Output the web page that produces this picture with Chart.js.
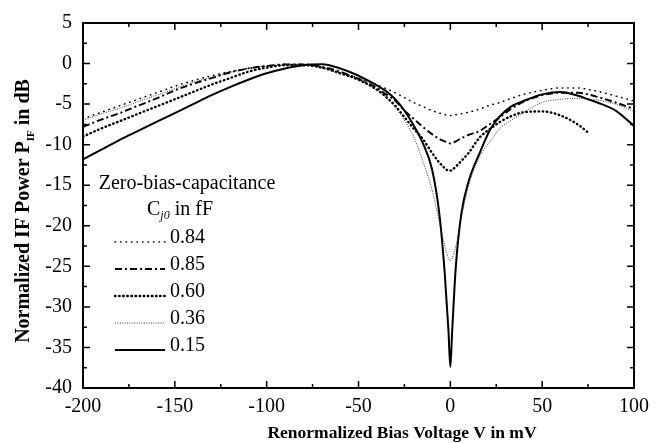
<!DOCTYPE html>
<html>
<head>
<meta charset="utf-8">
<style>
  html, body { margin: 0; padding: 0; background: #fff; }
  #wrap { width: 661px; height: 443px; }
</style>
<script src="https://cdn.jsdelivr.net/npm/chart.js@4.4.1/dist/chart.umd.min.js"></script>
</head>
<body>
<div id="wrap"><canvas id="myChart"></canvas></div>
<script>
// bias voltage grid (mV), shared by all curves
const biasMv = [-200, -190, -180, -170, -160, -150, -140, -130, -120, -110, -100, -90, -80,
  -70, -60, -50, -40, -35, -30, -25, -20, -15, -10, -6, -3, -1, 0, 1, 3, 6, 10, 16, 22, 27,
  33, 40, 50, 60, 70, 75, 80, 90, 100];

// normalized IF power (dB) per zero-bias capacitance
const cap084 = [-6.8, -6.0, -5.2, -4.4, -3.6, -2.8, -2.1, -1.5, -1.0, -0.6, -0.3, -0.1, -0.1,
  -0.5, -1.1, -1.8, -2.6, -3.1, -3.6, -4.2, -4.8, -5.3, -5.8, -6.1, -6.3, -6.4, -6.4, -6.4, -6.3,
  -6.2, -6.0, -5.6, -5.1, -4.8, -4.3, -3.8, -3.3, -3.0, -3.0, -3.2, -3.4, -4.0, -4.6];
const cap085 = [-7.8, -6.9, -6.1, -5.2, -4.3, -3.3, -2.5, -1.8, -1.1, -0.6, -0.3, -0.1, -0.1,
  -0.4, -1.0, -1.9, -3.0, -3.8, -4.6, -5.8, -6.8, -7.8, -8.7, -9.3, -9.6, -9.8, -9.85, -9.8, -9.6,
  -9.2, -8.8, -8.3, -7.4, -6.6, -5.6, -4.7, -3.9, -3.6, -3.6, -3.8, -4.1, -4.8, -5.6];
const cap060 = [-9.0, -8.0, -7.1, -6.2, -5.3, -4.4, -3.5, -2.6, -1.8, -1.0, -0.5, -0.2, -0.2,
  -0.5, -1.2, -2.0, -3.2, -4.1, -5.2, -6.6, -8.0, -9.3, -11.0, -12.2, -12.9, -13.2, -13.2, -13.1, -12.7,
  -12.0, -11.0, -9.1, -8.0, -7.2, -6.5, -6.0, -5.9, -6.4, -7.6, -8.5, null, null, null];
const cap036 = [-7.0, -6.2, -5.5, -4.7, -3.9, -3.1, -2.3, -1.7, -1.1, -0.6, -0.3, -0.2, -0.2,
  -0.5, -1.2, -2.0, -3.3, -4.2, -5.4, -7.0, -9.0, -12.0, -15.5, -19.5, -22.5, -24.0, -24.3, -24.0, -22.5,
  -19.0, -15.0, -11.5, -9.5, -8.0, -7.0, -6.0, -4.8, -4.4, -4.3, -4.4, -4.5, -5.0, -5.9];
const cap015 = [-11.8, -10.6, -9.4, -8.3, -7.2, -6.1, -5.0, -3.9, -2.9, -2.0, -1.2, -0.6, -0.2,
  -0.1, -0.6, -1.5, -2.7, -3.4, -4.4, -5.8, -7.6, -9.8, -13.0, -18.5, -26.0, -33.0, -37.4, -33.0, -25.0,
  -18.5, -14.5, -11.0, -8.0, -6.5, -5.3, -4.6, -3.8, -3.5, -4.0, -4.4, -4.8, -5.8, -7.7];

const capLabels = ["0.84", "0.85", "0.60", "0.36", "0.15"];
const xTickStep = 50;
const yTickStep = 5;

const serif = "'Liberation Serif', 'Times New Roman', serif";

function points(values) {
  return biasMv.map((v, i) => ({ x: v, y: values[i] }));
}

const lineStyles = [
  { width: 1.5, dash: [0.5, 5], cap: "round", color: "#000" },
  { width: 1.9, dash: [7, 3, 2, 3], cap: "butt", color: "#000" },
  { width: 2.4, dash: [0.5, 3.6], cap: "round", color: "#000" },
  { width: 0.9, dash: [1, 1.4], cap: "butt", color: "#222" },
  { width: 2, dash: [], cap: "butt", color: "#000" },
];

const seriesValues = [cap084, cap085, cap060, cap036, cap015];

const datasets = seriesValues.map((vals, i) => ({
  label: capLabels[i],
  data: points(vals),
  borderColor: lineStyles[i].color,
  borderWidth: lineStyles[i].width,
  borderDash: lineStyles[i].dash,
  borderCapStyle: lineStyles[i].cap,
  pointRadius: 0,
  fill: false,
  spanGaps: false,
  cubicInterpolationMode: "monotone",
}));

// frame, inward ticks, axis titles and the inset legend
const paperPlugin = {
  id: "paper",
  afterDatasetsDraw(chart) {
    const ctx = chart.ctx;
    const a = chart.chartArea;
    const xs = chart.scales.x;
    const ys = chart.scales.y;
    ctx.save();
    ctx.strokeStyle = "#000";
    ctx.lineWidth = 2;
    ctx.strokeRect(a.left, a.top, a.right - a.left, a.bottom - a.top);

    ctx.lineWidth = 1.5;
    for (let v = xs.min; v <= xs.max; v += xTickStep / 2) {
      const px = xs.getPixelForValue(v);
      const len = (v % xTickStep === 0) ? 7 : 4;
      ctx.beginPath();
      ctx.moveTo(px, a.bottom); ctx.lineTo(px, a.bottom - len);
      ctx.moveTo(px, a.top); ctx.lineTo(px, a.top + len);
      ctx.stroke();
    }
    for (let v = ys.min; v <= ys.max; v += yTickStep / 2) {
      const py = ys.getPixelForValue(v);
      const len = (v % yTickStep === 0) ? 7 : 4;
      ctx.beginPath();
      ctx.moveTo(a.left, py); ctx.lineTo(a.left + len, py);
      ctx.moveTo(a.right, py); ctx.lineTo(a.right - len, py);
      ctx.stroke();
    }
    ctx.restore();
  },
  afterDraw(chart) {
    const ctx = chart.ctx;
    ctx.save();
    ctx.fillStyle = "#000";
    ctx.textBaseline = "alphabetic";

    // x title
    ctx.font = "bold 17.5px " + serif;
    ctx.textAlign = "center";
    ctx.fillText("Renormalized Bias Voltage V in mV", 402, 438);

    // y title with subscript
    const big = "bold 20px " + serif;
    const small = "bold 11px " + serif;
    const p1 = "Normalized IF Power P", sub = "IF", p2 = " in dB";
    ctx.font = big;
    const w1 = ctx.measureText(p1).width, w3 = ctx.measureText(p2).width;
    ctx.font = small;
    const w2 = ctx.measureText(sub).width;
    const total = w1 + w2 + w3;
    ctx.translate(29, 211);
    ctx.rotate(-Math.PI / 2);
    ctx.textAlign = "left";
    let x0 = -total / 2;
    ctx.font = big; ctx.fillText(p1, x0, 0);
    ctx.font = small; ctx.fillText(sub, x0 + w1, 5);
    ctx.font = big; ctx.fillText(p2, x0 + w1 + w2, 0);
    ctx.setTransform(1, 0, 0, 1, 0, 0);

    // legend
    ctx.font = "20px " + serif;
    ctx.textAlign = "center";
    ctx.fillText("Zero-bias-capacitance", 187, 189);
    ctx.textAlign = "left";
    let cx = 147;
    ctx.fillText("C", cx, 215);
    cx += ctx.measureText("C").width;
    ctx.font = "italic 12px " + serif;
    ctx.fillText("j0", cx, 219);
    cx += ctx.measureText("j0").width;
    ctx.font = "20px " + serif;
    ctx.fillText(" in fF", cx, 215);

    capLabels.forEach((lab, i) => {
      const base = 243 + i * 27;
      const st = lineStyles[i];
      ctx.save();
      ctx.strokeStyle = st.color;
      ctx.lineWidth = st.width;
      ctx.setLineDash(st.dash);
      ctx.lineCap = st.cap;
      ctx.beginPath();
      ctx.moveTo(115, base - 1);
      ctx.lineTo(165, base - 1);
      ctx.stroke();
      ctx.restore();
      ctx.font = "20px " + serif;
      ctx.fillText(lab, 170, base);
    });
    ctx.restore();
  },
};

function createChart() {
  const ctx = document.getElementById("myChart");
  new Chart(ctx, {
    type: "line",
    data: { datasets },
    plugins: [paperPlugin],
    options: {
      responsive: true,
      maintainAspectRatio: false,
      animation: false,
      events: [],
      layout: { padding: { top: 22, right: 27, left: 0, bottom: 0 } },
      plugins: { legend: { display: false }, tooltip: { enabled: false } },
      scales: {
        x: {
          type: "linear",
          min: -200,
          max: 100,
          grid: { display: false, drawTicks: false },
          border: { display: false },
          ticks: { stepSize: xTickStep, color: "#000", padding: 7, font: { family: serif, size: 20 } },
          afterFit(scale) { scale.height = 55; },
        },
        y: {
          min: -40,
          max: 5,
          grid: { display: false, drawTicks: false },
          border: { display: false },
          ticks: { stepSize: yTickStep, color: "#000", padding: 11, font: { family: serif, size: 20 } },
          afterFit(scale) { scale.width = 83; },
        },
      },
    },
  });
}

createChart();
</script>
</body>
</html>
